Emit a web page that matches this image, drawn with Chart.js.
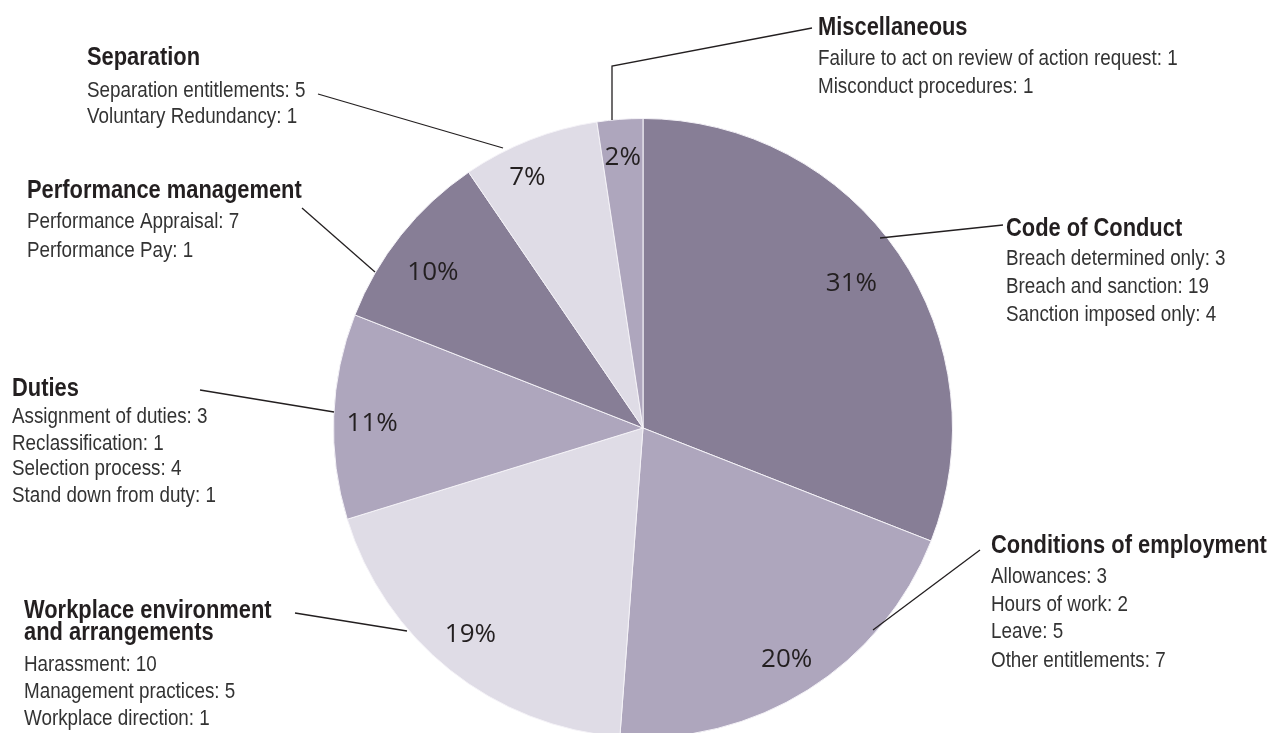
<!DOCTYPE html>
<html>
<head>
<meta charset="utf-8">
<script src="https://cdn.jsdelivr.net/npm/chart.js@4"></script>
<style>
  html, body { margin: 0; padding: 0; background: #fff; overflow: hidden; }
  #wrap { width: 1276px; height: 760px; }
</style>
</head>
<body>
<div id="wrap"><canvas id="myChart" width="1276" height="760"></canvas></div>
<script>
// categories, clockwise from 12 o'clock
var categories = ['Code of Conduct', 'Conditions of employment', 'Workplace environment and arrangements',
  'Duties', 'Performance management', 'Separation', 'Miscellaneous'];
var counts = [26, 17, 16, 9, 8, 6, 2];

var subItems = [
  ['Breach determined only: 3', 'Breach and sanction: 19', 'Sanction imposed only: 4'],
  ['Allowances: 3', 'Hours of work: 2', 'Leave: 5', 'Other entitlements: 7'],
  ['Harassment: 10', 'Management practices: 5', 'Workplace direction: 1'],
  ['Assignment of duties: 3', 'Reclassification: 1', 'Selection process: 4', 'Stand down from duty: 1'],
  ['Performance Appraisal: 7', 'Performance Pay: 1'],
  ['Separation entitlements: 5', 'Voluntary Redundancy: 1'],
  ['Failure to act on review of action request: 1', 'Misconduct procedures: 1']
];

var sliceColors = ['#877e96', '#aea6bd', '#dfdce6', '#aea6bd', '#877e96', '#dfdce6', '#aea6bd'];

// where the callout text sits (layout only)
var callouts = [
  { x: 1006, head: ['Code of Conduct'], headY: [236], itemY: [265, 293, 321], line: [[880, 238], [1003, 225]] },
  { x: 991, head: ['Conditions of employment'], headY: [553], itemY: [583, 611, 638, 667], line: [[873, 630], [980, 550]] },
  { x: 24, head: ['Workplace environment', 'and arrangements'], headY: [618, 640], itemY: [671, 698, 725], line: [[407, 631], [295, 613]] },
  { x: 12, head: ['Duties'], headY: [396], itemY: [423, 450, 475, 502], line: [[334, 412], [200, 390]] },
  { x: 27, head: ['Performance management'], headY: [198], itemY: [228, 257], line: [[375, 272], [302, 208]] },
  { x: 87, head: ['Separation'], headY: [65], itemY: [97, 123], line: [[503, 148], [318, 94]] },
  { x: 818, head: ['Miscellaneous'], headY: [35], itemY: [65, 93], line: [[612, 120], [612, 66], [812, 28]] }
];

// label radius fraction and angle nudge (degrees) for the % text
var pctPlace = [[0.82, -0.5], [0.88, 0.3], [0.87, 1.3], [0.875, -1.2], [0.845, -2], [0.89, -3.4], [0.875, 0]];

// narrow faces are not installed, so squeeze Liberation Sans horizontally
var headFont = 'bold 25px "Liberation Sans", Arial, sans-serif';
var headSqueeze = 0.875;
var itemFont = '22px "Liberation Sans", Arial, sans-serif';
var itemSqueeze = 0.855;
var pctFont = '500 26px "Open Sans", sans-serif';

function squeezedText(ctx, text, x, y, sx) {
  ctx.save();
  ctx.translate(x, y);
  ctx.scale(sx, 1);
  ctx.fillText(text, 0, 0);
  ctx.restore();
}

var calloutPlugin = {
  id: 'callouts',
  afterDatasetsDraw: function(chart) {
    var ctx = chart.ctx;
    var meta = chart.getDatasetMeta(0);
    var total = counts.reduce(function(a, b) { return a + b; }, 0);
    ctx.save();
    // percentages
    ctx.fillStyle = '#231f20';
    ctx.font = pctFont;
    ctx.textAlign = 'center';
    ctx.textBaseline = 'middle';
    meta.data.forEach(function(arc, i) {
      var p = arc.getProps(['x', 'y', 'startAngle', 'endAngle', 'outerRadius'], true);
      var mid = (p.startAngle + p.endAngle) / 2 + pctPlace[i][1] * Math.PI / 180;
      var r = p.outerRadius * pctPlace[i][0];
      ctx.fillText(Math.round(counts[i] / total * 100) + '%', p.x + r * Math.cos(mid), p.y + r * Math.sin(mid));
    });
    // leader lines
    ctx.strokeStyle = '#231f20';
    ctx.lineWidth = 1.3;
    callouts.forEach(function(c) {
      ctx.beginPath();
      ctx.moveTo(c.line[0][0], c.line[0][1]);
      for (var k = 1; k < c.line.length; k++) ctx.lineTo(c.line[k][0], c.line[k][1]);
      ctx.stroke();
    });
    // texts
    ctx.textAlign = 'left';
    ctx.textBaseline = 'alphabetic';
    callouts.forEach(function(c, i) {
      ctx.font = headFont;
      ctx.fillStyle = '#231f20';
      c.head.forEach(function(t, k) { squeezedText(ctx, t, c.x, c.headY[k], headSqueeze); });
      ctx.font = itemFont;
      ctx.fillStyle = '#333333';
      subItems[i].forEach(function(t, k) { squeezedText(ctx, t, c.x, c.itemY[k], itemSqueeze); });
    });
    ctx.restore();
  }
};

var ctx = document.getElementById('myChart').getContext('2d');
var myChart = new Chart(ctx, {
  type: 'pie',
  data: {
    labels: categories,
    datasets: [{
      data: counts,
      backgroundColor: sliceColors,
      borderColor: '#f4f2f7',
      borderWidth: 1
    }]
  },
  options: {
    responsive: false,
    animation: false,
    layout: { padding: { left: 333, right: 323, top: 118, bottom: 22 } },
    plugins: {
      legend: { display: false },
      tooltip: { enabled: false }
    }
  },
  plugins: [calloutPlugin]
});
</script>
</body>
</html>
